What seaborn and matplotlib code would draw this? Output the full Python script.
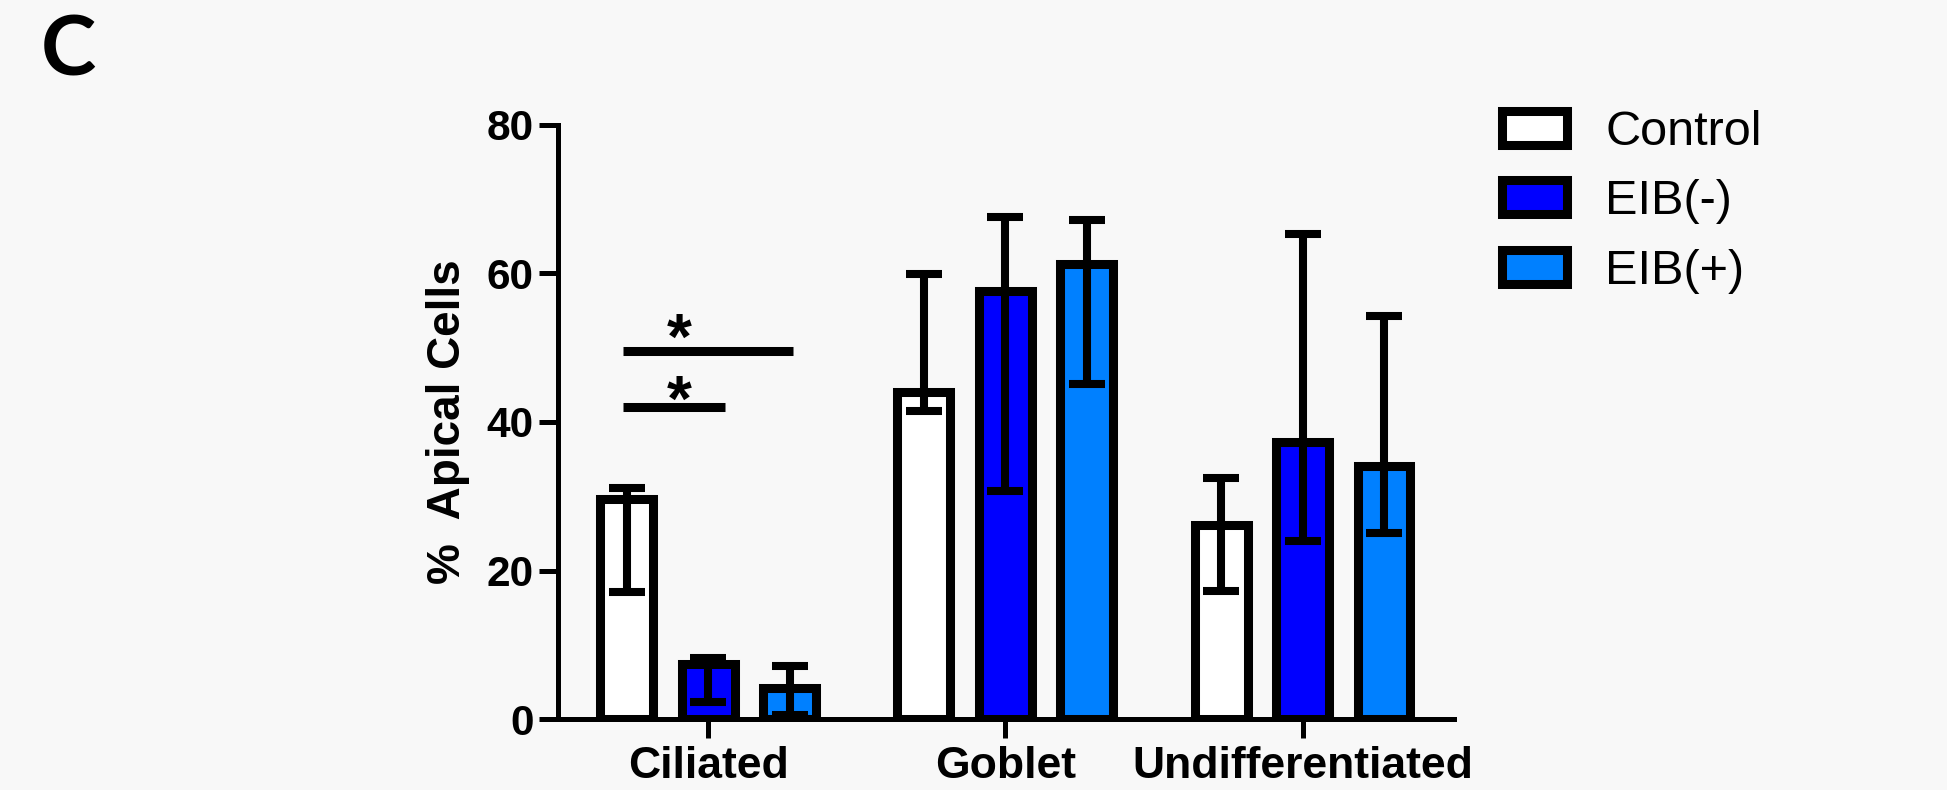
"""
% apical cells by cell type, Control vs EIB(-) vs EIB(+)
"""

import numpy as np
import pandas as pd
import matplotlib
matplotlib.use("Agg")
import matplotlib.pyplot as plt
from matplotlib.patches import Patch
import seaborn as sns

cell_types = ["Ciliated", "Goblet", "Undifferentiated"]
groups = ["Control", "EIB(-)", "EIB(+)"]
colors = ["#ffffff", "#0000ff", "#0080ff"]

# bar heights (% apical cells)
control = [29.7, 44.1, 26.1]
eib_neg = [7.4, 57.6, 37.3]
eib_pos = [4.2, 61.3, 34.1]

# error bar ends
control_lo = [17.1, 41.5, 17.3]
control_hi = [31.1, 59.9, 32.4]
eib_neg_lo = [2.3, 30.7, 24.0]
eib_neg_hi = [8.2, 67.6, 65.3]
eib_pos_lo = [0.6, 45.1, 25.1]
eib_pos_hi = [7.2, 67.2, 54.3]

# significance bars (x start, x end, y) and stars (x, y)
sig_lines = [(-0.287, 0.287, 49.6), (-0.287, 0.056, 42.0)]
sig_stars = [(-0.097, 50.8), (-0.097, 42.5)]

y_ticks = [0, 20, 40, 60, 80]

BG = "#f8f8f8"

df = pd.DataFrame({
    "cell": cell_types * 3,
    "group": np.repeat(groups, 3),
    "value": control + eib_neg + eib_pos,
})
err_lo = [control_lo, eib_neg_lo, eib_pos_lo]
err_hi = [control_hi, eib_neg_hi, eib_pos_hi]

sns.set_style("ticks")
plt.rcParams["font.family"] = ["Liberation Sans", "DejaVu Sans"]
plt.rcParams["text.color"] = "black"

fig = plt.figure(figsize=(19.47, 7.9), dpi=100, facecolor=BG)
ax = fig.add_axes([0.2868, 0.0896, 0.4599, 0.7525])
ax.set_facecolor(BG)

sns.barplot(data=df, x="cell", y="value", hue="group",
            order=cell_types, hue_order=groups, palette=colors,
            saturation=1, width=0.822, gap=0.35,
            edgecolor="black", linewidth=6.5,
            errorbar=None, legend=False, ax=ax)

# asymmetric error bars on top of each bar
bar_groups = list(ax.containers)
for i, cont in enumerate(bar_groups):
    xs = [b.get_x() + b.get_width() / 2 for b in cont]
    ys = np.array([b.get_height() for b in cont])
    lo = ys - np.array(err_lo[i])
    hi = np.array(err_hi[i]) - ys
    ax.errorbar(xs, ys, yerr=[lo, hi], fmt="none", ecolor="black",
                elinewidth=5.8, capsize=13, capthick=5.8, zorder=3)

# significance markers
for x0, x1, y in sig_lines:
    ax.plot([x0, x1], [y, y], color="black", lw=6.5, solid_capstyle="butt")
for x, y in sig_stars:
    ax.text(x, y, "*", ha="center", va="center", fontsize=46,
            fontweight="bold", color="black")

ax.set_xlim(-0.504, 2.509)
ax.set_ylim(0, 80)
ax.set_yticks(y_ticks)
sns.despine(ax=ax)
for s in ["left", "bottom"]:
    ax.spines[s].set_linewidth(3.6)
    ax.spines[s].set_color("black")

ax.tick_params(axis="both", length=14, width=3.6, color="black",
               labelcolor="black")
ax.tick_params(axis="y", pad=3.6, labelsize=30.5)
ax.tick_params(axis="x", pad=5, labelsize=32)
plt.setp(ax.get_xticklabels(), fontweight="bold")
plt.setp(ax.get_yticklabels(), fontweight="bold")
ax.set_xlabel("")
ax.set_ylabel("%  Apical Cells", fontsize=33, fontweight="bold",
              color="black", labelpad=12)

handles = [Patch(facecolor=c, edgecolor="black", linewidth=6.5, label=g)
           for g, c in zip(groups, colors)]
fig.legend(handles=handles, loc="upper left",
           bbox_to_anchor=(1502 / 1947, 1 - 110 / 790),
           frameon=False, fontsize=35, labelcolor="black",
           handlelength=1.34, handleheight=0.70,
           handletextpad=0.78, labelspacing=0.5, borderpad=0,
           borderaxespad=0)

fig.text(0.021, 1 - 76 / 790, "C", fontsize=60, fontweight="bold",
         family=["Lato", "DejaVu Sans"], va="baseline")

fig.savefig("out.png", dpi=100, facecolor=fig.get_facecolor())
